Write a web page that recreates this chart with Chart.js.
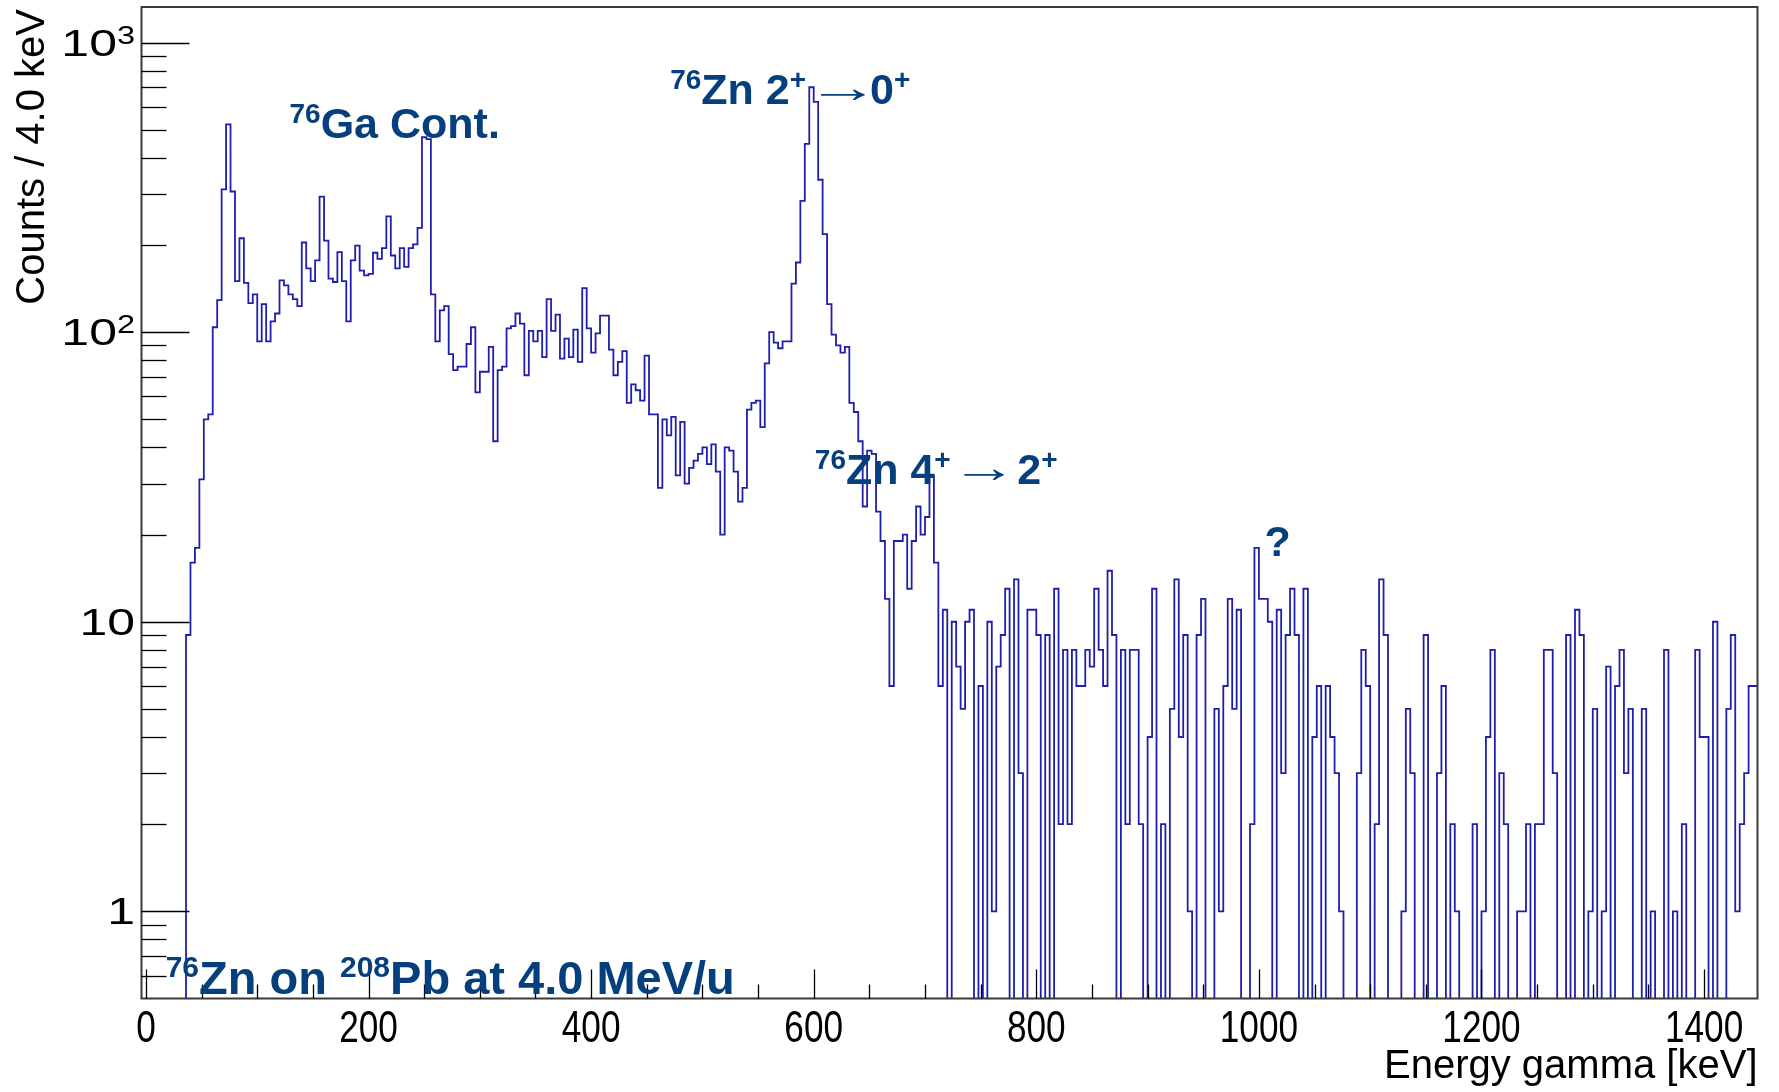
<!DOCTYPE html>
<html>
<head>
<meta charset="utf-8">
<script src="https://cdn.jsdelivr.net/npm/chart.js@4.4.1/dist/chart.umd.min.js"></script>
<style>
body { margin: 0; background: #ffffff; }
#wrap { width: 1779px; height: 1092px; }
</style>
</head>
<body>
<div id="wrap"><canvas id="mainChart"></canvas></div>
<script>
const ctx = document.getElementById('mainChart');

// histogram: 4 keV bins, first bin starts at -4 keV
const binStart = -4;
const binWidth = 4;
const counts = [
    0, 0, 0, 0, 0, 0, 0, 0, 0, 0,
    9, 16, 18, 31, 50, 52, 104, 129, 311, 522,
    306, 150, 211, 148, 126, 135, 93, 125, 93, 109,
    116, 151, 145, 135, 130, 123, 204, 166, 150, 177,
    294, 207, 153, 149, 189, 150, 109, 177, 199, 163,
    157, 159, 188, 179, 195, 251, 184, 166, 195, 168,
    195, 201, 229, 471, 464, 135, 93, 119, 123, 84,
    74, 76, 76, 91, 104, 62, 73, 73, 89, 42,
    74, 76, 103, 105, 116, 107, 71, 101, 93, 101,
    82, 130, 101, 115, 81, 95, 82, 102, 79, 142,
    103, 85, 99, 114, 114, 87, 71, 79, 86, 57,
    66, 63, 58, 83, 52, 52, 29, 50, 44, 51,
    32, 49, 30, 34, 36, 38, 40, 35, 41, 33,
    20, 40, 39, 33, 26, 29, 54, 57, 58, 47,
    78, 100, 92, 88, 93, 93, 147, 174, 284, 447,
    701, 624, 336, 218, 125, 98, 90, 85, 89, 57,
    53, 42, 25, 39, 38, 24, 19, 12, 6, 19,
    19, 20, 13, 19, 25, 20, 23, 32, 16, 6,
    11, 0, 10, 7, 5, 10, 11, 0, 6, 0,
    10, 1, 7, 9, 13, 0, 14, 3, 0, 11,
    11, 9, 0, 9, 0, 13, 2, 8, 2, 8,
    6, 6, 8, 7, 13, 8, 6, 15, 9, 0,
    8, 2, 8, 8, 2, 0, 4, 13, 0, 2,
    0, 5, 14, 4, 9, 1, 0, 9, 12, 0,
    0, 5, 1, 6, 12, 5, 11, 0, 0, 2,
    18, 12, 12, 10, 0, 11, 3, 9, 13, 9,
    0, 13, 0, 4, 6, 0, 6, 4, 3, 1,
    0, 0, 0, 3, 8, 6, 0, 2, 14, 9,
    0, 0, 0, 1, 5, 3, 0, 0, 9, 0,
    0, 3, 6, 0, 2, 1, 0, 0, 0, 2,
    0, 1, 4, 8, 0, 3, 2, 0, 0, 1,
    1, 2, 0, 2, 2, 8, 8, 3, 0, 0,
    9, 0, 11, 9, 0, 1, 5, 0, 1, 7,
    0, 6, 8, 3, 5, 0, 0, 5, 0, 1,
    0, 0, 8, 0, 1, 0, 2, 0, 0, 8,
    4, 4, 0, 10, 0, 0, 5, 9, 1, 2,
    3, 6, 6
];

const xMin = -4, xMax = 1448;
const yMin = 0.5, yMax = 1327;
const xTickLabels = [0, 200, 400, 600, 800, 1000, 1200, 1400];
const yTickValues = [1, 10, 100, 1000];
const yTickBase = ['1', '10', '10', '10'];
const yTickExp = ['', '', '2', '3'];

// text pieces: 0 = bold, 1 = bold superscript, 2 = plain arrow (stretch, extra gap)
const notes = [
    {x: 129, y: 467, size: 43, parts: [['76', 1], ['Ga Cont.', 0]]},
    {x: 471, y: 612, size: 43, parts: [['76', 1], ['Zn 2', 0], ['+', 1], ['\u2192', 2, 1.72, -10], ['0', 0], ['+', 1]]},
    {x: 601, y: 29.8, size: 43, parts: [['76', 1], ['Zn 4', 0], ['+', 1], ['\u2192', 2, 1.55, 0], ['2', 0], ['+', 1]]},
    {x: 1005, y: 16.9, size: 43, parts: [['?', 0]]},
    {x: 17.7, y: 0.519, size: 47, parts: [['76', 1], ['Zn on ', 0], ['208', 1], ['Pb at 4.0 MeV/u', 0]]}
];

const pts = counts.map((c, i) => ({x: binStart + i * binWidth, y: c > 0 ? c : 0.01}));
pts.push({x: binStart + counts.length * binWidth, y: pts[pts.length - 1].y});

const FONT = '"Liberation Sans", Arial, Helvetica, sans-serif';

const rootFrame = {
    id: 'rootFrame',
    afterDraw(chart) {
        const c = chart.ctx;
        const a = chart.chartArea;
        const xs = chart.scales.x;
        const ys = chart.scales.y;
        c.save();

        // frame
        c.strokeStyle = '#3a3a3a';
        c.lineWidth = 2;
        c.strokeRect(a.left, a.top, a.right - a.left, a.bottom - a.top);

        // x ticks
        c.strokeStyle = '#000';
        c.lineWidth = 1.3;
        for (let v = 0; v <= xMax; v += 50) {
            const px = Math.round(xs.getPixelForValue(v)) + 0.5;
            const len = v % 200 === 0 ? 29 : 14;
            c.beginPath();
            c.moveTo(px, a.bottom);
            c.lineTo(px, a.bottom - len);
            c.stroke();
        }
        // y ticks (log)
        for (let d = -1; d <= 3; d++) {
            for (let m = 1; m <= 9; m++) {
                const v = m * Math.pow(10, d);
                if (v <= yMin || v >= yMax) continue;
                const py = Math.round(ys.getPixelForValue(v)) + 0.5;
                const len = m === 1 ? 48 : 25;
                c.beginPath();
                c.moveTo(a.left, py);
                c.lineTo(a.left + len, py);
                c.stroke();
            }
        }

        // x tick labels
        c.fillStyle = '#000';
        c.font = '44px ' + FONT;
        c.textAlign = 'center';
        c.textBaseline = 'alphabetic';
        xTickLabels.forEach(v => {
            c.save();
            c.translate(xs.getPixelForValue(v), a.bottom + 43);
            c.scale(0.8, 1);
            c.fillText(String(v), 0, 0);
            c.restore();
        });

        // y tick labels (wide)
        c.textAlign = 'left';
        const sxMain = 1.35, sxExp = 1.3;
        yTickValues.forEach((v, i) => {
            const py = ys.getPixelForValue(v);
            c.font = '37px ' + FONT;
            const wb = c.measureText(yTickBase[i]).width * sxMain;
            c.font = '25px ' + FONT;
            const we = yTickExp[i] ? c.measureText(yTickExp[i]).width * sxExp : 0;
            const x0 = 135 - wb - we;
            c.save();
            c.translate(x0, py + 13);
            c.scale(sxMain, 1);
            c.font = '37px ' + FONT;
            c.fillText(yTickBase[i], 0, 0);
            c.restore();
            if (yTickExp[i]) {
                c.save();
                c.translate(x0 + wb, py + 1);
                c.scale(sxExp, 1);
                c.font = '25px ' + FONT;
                c.fillText(yTickExp[i], 0, 0);
                c.restore();
            }
        });

        // axis titles
        c.font = '40px ' + FONT;
        c.textAlign = 'right';
        c.fillText('Energy gamma [keV]', a.right, 1078);
        c.save();
        c.translate(44, a.top + 2);
        c.rotate(-Math.PI / 2);
        c.fillText('Counts / 4.0 keV', 0, 0);
        c.restore();

        // annotations
        c.fillStyle = '#063f7e';
        c.textAlign = 'left';
        notes.forEach(n => {
            let cx = xs.getPixelForValue(n.x);
            const by = ys.getPixelForValue(n.y);
            n.parts.forEach(([t, k, s, gap]) => {
                if (k === 2) {
                    c.font = n.size + 'px ' + FONT;
                    const w = c.measureText(t).width;
                    c.save();
                    c.translate(cx, by - 2);
                    c.scale(s, 1);
                    c.fillText(t, 0, 0);
                    c.restore();
                    cx += w * s + gap;
                    return;
                }
                const fs = k === 1 ? Math.round(n.size * 0.64) : n.size;
                c.font = 'bold ' + fs + 'px ' + FONT;
                const dy = k === 1 ? -n.size * 0.36 : 0;
                c.fillText(t, cx, by + dy);
                cx += c.measureText(t).width;
            });
        });
        c.restore();
    }
};

new Chart(ctx, {
    type: 'line',
    data: {
        datasets: [{
            label: 'Energy gamma',
            data: pts,
            stepped: true,
            borderColor: '#1f1fac',
            borderWidth: 1.8,
            pointRadius: 0,
            fill: false,
            tension: 0
        }]
    },
    options: {
        responsive: true,
        maintainAspectRatio: false,
        animation: false,
        events: [],
        layout: {
            padding: {left: 141.5, right: 21.5, top: 7, bottom: 93.5}
        },
        scales: {
            x: {type: 'linear', min: xMin, max: xMax, display: false},
            y: {type: 'logarithmic', min: yMin, max: yMax, display: false}
        },
        plugins: {
            legend: {display: false},
            tooltip: {enabled: false},
            title: {display: false}
        }
    },
    plugins: [rootFrame]
});
</script>
</body>
</html>
